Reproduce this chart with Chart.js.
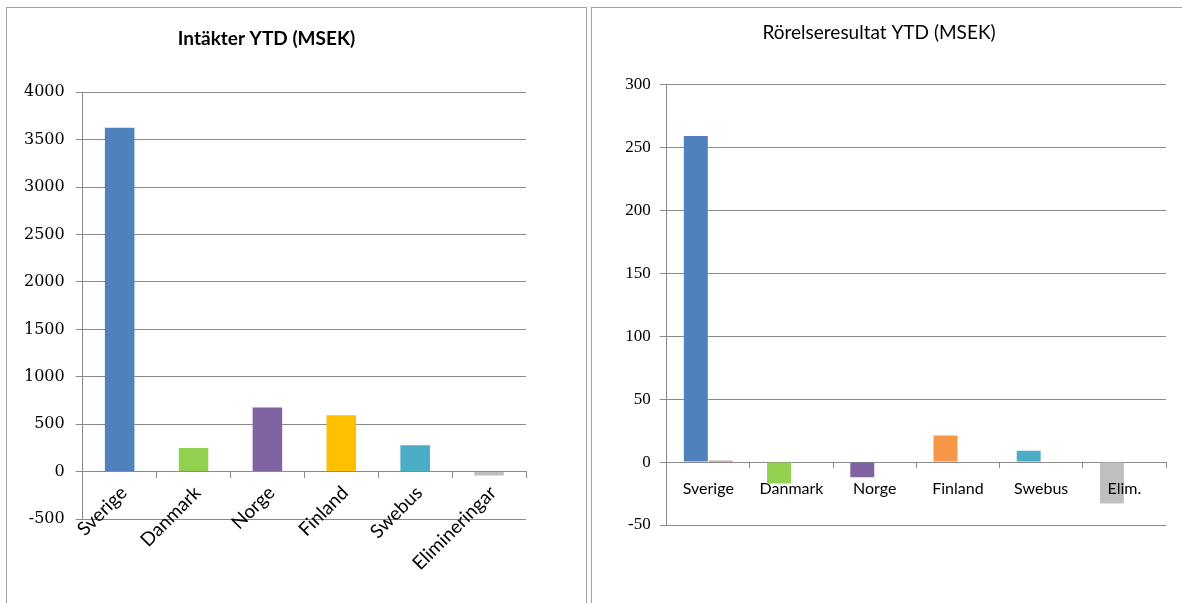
<!DOCTYPE html>
<html>
<head>
<meta charset="utf-8">
<script src="https://cdn.jsdelivr.net/npm/chart.js@4/dist/chart.umd.min.js"></script>
<style>
  html, body { margin: 0; padding: 0; background: #ffffff; overflow: hidden; }
  body { width: 1182px; height: 603px; position: relative; }
  .panel { position: absolute; border: 1px solid #a2a2a2; background: #fff; }
  canvas { position: absolute; }
</style>
</head>
<body>
<div class="panel" style="left:6px; top:7px; width:579px; height:610px;"></div>
<div class="panel" style="left:591px; top:7px; width:600px; height:610px;"></div>
<canvas id="income" width="578" height="595" style="left:7px; top:8px;"></canvas>
<canvas id="result" width="590" height="595" style="left:592px; top:8px;"></canvas>
<script>
// Intäkter YTD per segment (MSEK)
const incomeCategories = ['Sverige', 'Danmark', 'Norge', 'Finland', 'Swebus', 'Elimineringar'];
const incomeValues = [3625, 250, 675, 595, 278, -40];
const incomeTicks = [-500, 0, 500, 1000, 1500, 2000, 2500, 3000, 3500, 4000];
const incomeColors = ['#4F81BD', '#92D050', '#8064A2', '#FFC000', '#4BACC6', '#BFBFBF'];

// Rörelseresultat YTD per segment (MSEK)
const resultCategories = ['Sverige', 'Danmark', 'Norge', 'Finland', 'Swebus', 'Elim.'];
const resultValues = [259, -17, -12, 21, 9, -33];
const resultSecondValues = [1, 0, 0, 0, 0, 0];
const resultTicks = [-50, 0, 50, 100, 150, 200, 250, 300];
const resultColors = ['#4F81BD', '#92D050', '#8064A2', '#F79646', '#4BACC6', '#BFBFBF'];

const gridGray = '#8a8a8a';

function fixedTicks(list) {
  return function (scale) { scale.ticks = list.map(v => ({ value: v })); };
}
const plainNumber = v => String(v);

new Chart(document.getElementById('income'), {
  type: 'bar',
  data: {
    labels: incomeCategories,
    datasets: [{
      data: incomeValues,
      backgroundColor: incomeColors,
      borderWidth: 0,
      categoryPercentage: 0.5,
      barPercentage: 0.8
    }]
  },
  options: {
    responsive: false,
    animation: false,
    layout: { padding: { left: 0, right: 59, top: 0, bottom: 84 } },
    plugins: {
      legend: { display: false },
      tooltip: { enabled: false },
      title: {
        display: true,
        text: 'Intäkter YTD (MSEK)',
        color: '#000',
        font: { family: 'Lato', size: 19, weight: 'bold' },
        padding: { top: 19.6, bottom: 41.9 }
      }
    },
    scales: {
      y: {
        min: incomeTicks[0],
        max: incomeTicks[incomeTicks.length - 1],
        afterBuildTicks: fixedTicks(incomeTicks),
        afterFit: s => { s.width = 75.7; },
        grid: { color: gridGray, tickLength: 7, tickColor: gridGray },
        border: { color: gridGray },
        ticks: { color: '#000', padding: 11, callback: plainNumber, font: { family: 'DejaVu Serif', size: 16 } }
      },
      x: {
        position: { y: 0 },
        offset: true,
        grid: { drawOnChartArea: false, drawTicks: true, tickLength: 6, color: gridGray, offset: true },
        border: { color: gridGray },
        ticks: {
          color: '#000', autoSkip: false, minRotation: 45, maxRotation: 45, padding: 4, labelOffset: 4,
          font: { family: 'Lato', size: 19 }
        }
      }
    }
  }
});

new Chart(document.getElementById('result'), {
  type: 'bar',
  data: {
    labels: resultCategories,
    datasets: [{
      data: resultValues,
      backgroundColor: resultColors,
      borderWidth: 0,
      categoryPercentage: 0.6,
      barPercentage: 0.96
    }, {
      data: resultSecondValues,
      backgroundColor: '#C0504D',
      borderWidth: 0,
      categoryPercentage: 0.6,
      barPercentage: 0.96
    }]
  },
  options: {
    responsive: false,
    animation: false,
    layout: { padding: { left: 0, right: 16, top: 0, bottom: 78 } },
    plugins: {
      legend: { display: false },
      tooltip: { enabled: false },
      title: {
        display: true,
        text: 'Rörelseresultat YTD (MSEK)',
        color: '#000',
        font: { family: 'Lato', size: 19, weight: 'normal' },
        padding: { top: 13.6, bottom: 39.9 }
      }
    },
    scales: {
      y: {
        min: resultTicks[0],
        max: resultTicks[resultTicks.length - 1],
        afterBuildTicks: fixedTicks(resultTicks),
        afterFit: s => { s.width = 74.7; },
        grid: { color: gridGray, tickLength: 7, tickColor: gridGray },
        border: { color: gridGray },
        ticks: { color: '#000', padding: 9, callback: plainNumber, font: { family: 'Liberation Serif', size: 17 } }
      },
      x: {
        position: { y: 0 },
        offset: true,
        grid: { drawOnChartArea: false, drawTicks: true, tickLength: 5, color: gridGray, offset: true },
        border: { color: gridGray },
        ticks: {
          z: 1,
          color: '#000', autoSkip: false, maxRotation: 0, minRotation: 0, padding: 12,
          font: { family: 'Lato', size: 16 }
        }
      }
    }
  }
});
</script>
</body>
</html>
